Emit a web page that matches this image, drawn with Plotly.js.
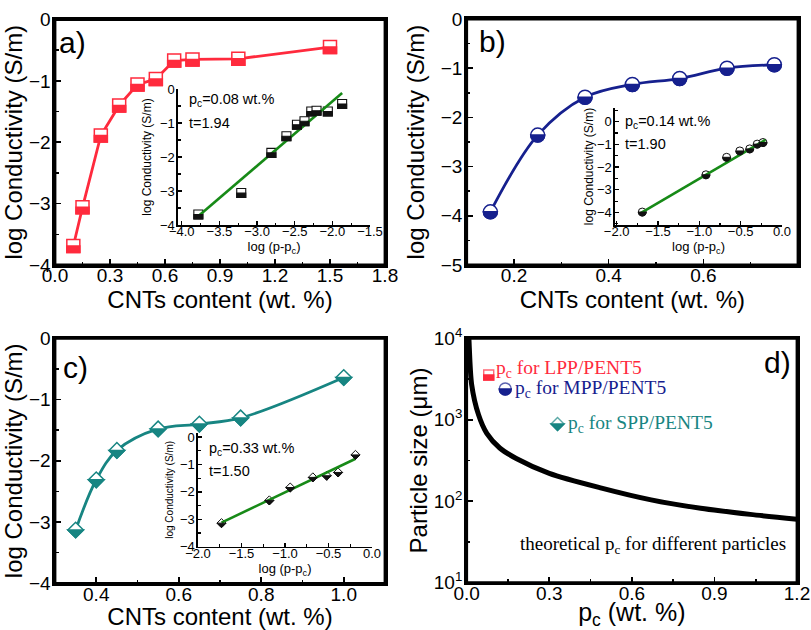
<!DOCTYPE html>
<html><head><meta charset="utf-8">
<script src="https://cdn.plot.ly/plotly-3.0.1.min.js"></script>
<style>html,body{margin:0;padding:0;background:#fff}#chart{width:811px;height:630px}</style>
</head><body><div id="chart"></div>
<script>
// ---------- data ----------
// panel a (LPP/PENT5)
const aX = [0.10, 0.15, 0.25, 0.35, 0.45, 0.55, 0.65, 0.75, 1.00, 1.50];
const aY = [-3.69, -3.06, -1.89, -1.40, -1.06, -0.97, -0.67, -0.65, -0.64, -0.45];
const aInsetX = [-3.78, -3.21, -2.81, -2.61, -2.47, -2.37, -2.28, -2.21, -2.06, -1.87];
const aInsetY = [-3.69, -3.06, -1.88, -1.39, -1.05, -0.95, -0.66, -0.64, -0.66, -0.44];
const aFitX = [-3.79, -1.87];
const aFitY = [-3.76, -0.12];
// panel b (MPP/PENT5)
const bX = [0.15, 0.25, 0.35, 0.45, 0.55, 0.65, 0.75];
const bY = [-3.92, -2.36, -1.59, -1.33, -1.21, -1.00, -0.93];
const bInsetX = [-1.69, -0.92, -0.67, -0.51, -0.39, -0.30, -0.23];
const bInsetY = [-3.98, -2.34, -1.57, -1.29, -1.20, -0.99, -0.92];
const bFitX = [-1.71, -0.20];
const bFitY = [-4.03, -0.80];
// panel c (SPP/PENT5)
const cX = [0.35, 0.40, 0.45, 0.55, 0.65, 0.75, 1.00];
const cY = [-3.13, -2.31, -1.83, -1.48, -1.40, -1.30, -0.64];
const cInsetX = [-1.73, -1.18, -0.94, -0.68, -0.52, -0.39, -0.19];
const cInsetY = [-3.14, -2.31, -1.84, -1.47, -1.41, -1.29, -0.65];
const cFitX = [-1.73, -0.195];
const cFitY = [-3.12, -0.80];
// panel d
const dCurveX = [0.004, 0.008, 0.018, 0.043, 0.073, 0.12, 0.18, 0.30, 0.49, 0.67, 0.85, 1.03, 1.20];
const dCurveY = [20000, 10000, 2700, 1150, 680, 450, 335, 220, 145, 104, 82, 69, 60];
const dPcX = [0.08, 0.14, 0.33];
const dPcY = [3540, 2390, 890];
const dPcLabels = ['p<sub>c</sub> for LPP/PENT5', 'p<sub>c</sub> for MPP/PENT5', 'p<sub>c</sub> for SPP/PENT5'];
const dTickVals = [10, 100, 1000, 10000];
const dTickText = ['10<sup>1</sup>', '10<sup>2</sup>', '10<sup>3</sup>', '10<sup>4</sup>'];
const insetTexts = [['p<sub>c</sub>=0.08 wt.%', 't=1.94'], ['p<sub>c</sub>=0.14 wt.%', 't=1.90'], ['p<sub>c</sub>=0.33 wt.%', 't=1.50']];

// ---------- style ----------
const W = 811, H = 630;
const px = (a, b) => [a / W, b / W];
const py = (top, bot) => [1 - bot / H, 1 - top / H];
const SANS = '"Liberation Sans", Arial, sans-serif';
const SERIF = '"Liberation Serif", "Times New Roman", serif';
const RED = '#FF2A3D', BLUE = '#16208E', TEAL = '#178582', GREEN = '#178A17', INK = '#111';

function mainAxis(domain, range, dtick, minor, anchor, extra) {
  return Object.assign({
    domain, range, dtick, anchor, showline: true, linecolor: 'black', linewidth: 2.6, mirror: true,
    ticks: 'inside', ticklen: 6, tickwidth: 1.6, tickcolor: 'black', showgrid: false, zeroline: false,
    tickfont: {family: SANS, size: 19, color: 'black'},
    minor: {ticks: 'inside', ticklen: 3.5, tickwidth: 1.6, tickcolor: 'black', dtick: minor, showgrid: false},
    fixedrange: true
  }, extra || {});
}
function insetAxis(domain, range, dtick, minor, anchor, extra) {
  return Object.assign({
    domain, range, dtick, anchor, showline: true, linecolor: 'black', linewidth: 1.6, mirror: false,
    ticks: 'inside', ticklen: 4, tickwidth: 1.3, tickcolor: 'black', showgrid: false, zeroline: false,
    tickfont: {family: SANS, size: 13, color: 'black'},
    minor: {ticks: 'inside', ticklen: 2.5, tickwidth: 1.2, tickcolor: 'black', dtick: minor, showgrid: false},
    fixedrange: true
  }, extra || {});
}

function halfPath(kind, s) {
  if (kind === 'square') { const h = s / 2; return `M${-h},0 L${h},0 L${h},${-h} L${-h},${-h} Z`; }
  if (kind === 'circle') { const r = s / 2, k = 0.5523 * r; return `M${-r},0 C${-r},${-k} ${-k},${-r} 0,${-r} C${k},${-r} ${r},${-k} ${r},0 Z`; }
  const w = 0.65 * s; return `M${-w},0 L${w},0 L0,${-w} Z`;
}
function halfShapes(xs, ys, xref, yref, kind, size, color, lw) {
  return xs.map((x, i) => ({
    type: 'path', xref, yref, xsizemode: 'pixel', ysizemode: 'pixel',
    xanchor: x, yanchor: ys[i],
    path: halfPath(kind, size), fillcolor: color, line: {color, width: lw}, layer: 'above'
  }));
}
function pts(xs, ys, xa, ya, sym, size, color, lw, lineColor, mode, shape) {
  return {x: xs, y: ys, xaxis: xa, yaxis: ya, type: 'scatter', mode: mode || 'markers',
    line: {color: lineColor || color, width: 2.8, shape: shape || 'linear', smoothing: 1},
    marker: {symbol: sym, size, color: 'white', line: {color, width: lw}}, hoverinfo: 'skip'};
}
function fit(xs, ys, xa, ya) {
  return {x: xs, y: ys, xaxis: xa, yaxis: ya, type: 'scatter', mode: 'lines', line: {color: GREEN, width: 2.6}, hoverinfo: 'skip'};
}

const data = [
  pts(aX, aY, 'x', 'y', 'square', 13, RED, 1.5, RED, 'lines+markers', 'linear'),
  pts(bX, bY, 'x2', 'y2', 'circle', 14, BLUE, 1.5, BLUE, 'lines+markers', 'spline'),
  pts(cX, cY, 'x3', 'y3', 'diamond', 12, TEAL, 1.5, TEAL, 'lines+markers', 'spline'),
  {x: dCurveX, y: dCurveY, xaxis: 'x4', yaxis: 'y4', type: 'scatter', mode: 'lines', line: {color: 'black', width: 5, shape: 'spline', smoothing: 0.8}, hoverinfo: 'skip'},
  {x: dPcX, y: dPcY, xaxis: 'x4', yaxis: 'y4', type: 'scatter', mode: 'markers', hoverinfo: 'skip',
   marker: {symbol: ['square', 'circle', 'diamond'], size: [10, 12, 10], color: 'white', line: {color: [RED, BLUE, TEAL], width: 1.4}}},
  pts(aInsetX, aInsetY, 'x5', 'y5', 'square', 9, INK, 1.1),
  fit(aFitX, aFitY, 'x5', 'y5'),
  pts(bInsetX, bInsetY, 'x6', 'y6', 'circle', 8, INK, 1.0),
  fit(bFitX, bFitY, 'x6', 'y6'),
  pts(cInsetX, cInsetY, 'x7', 'y7', 'diamond', 7, INK, 1.0),
  fit(cFitX, cFitY, 'x7', 'y7')
];

const tTitle = (text, size, standoff, family) => ({text, font: {family: family || SANS, size: size, color: 'black'}, standoff});
const YT = 'log Conductivity (S/m)', XT = 'CNTs content (wt. %)', IXT = 'log (p-p<sub>c</sub>)';

const layout = {
  width: W, height: H, margin: {l: 0, r: 0, t: 0, b: 0}, showlegend: false,
  paper_bgcolor: 'white', plot_bgcolor: 'rgba(0,0,0,0)',
  font: {family: SANS, color: 'black'},
  xaxis: mainAxis(px(55, 385), [0, 1.8], 0.3, 0.15, 'y', {tickformat: '.1f', ticklabelstandoff: -8, title: tTitle(XT, 24, 2)}),
  yaxis: mainAxis(py(19.5, 265), [-4, 0], 1, 0.5, 'x', {ticklabelstandoff: -2, title: tTitle(YT, 24, 0)}),
  xaxis2: mainAxis(px(466.7, 798), [0.1, 0.8], 0.2, 0.1, 'y2', {tickformat: '.1f', tick0: 0, ticklabelstandoff: -8, title: tTitle(XT, 24, 2)}),
  yaxis2: mainAxis(py(19, 265), [-5, 0], 1, 0.5, 'x2', {ticklabelstandoff: -2, title: tTitle(YT, 24, 10)}),
  xaxis3: mainAxis(px(55, 385), [0.3, 1.1], 0.2, 0.1, 'y3', {tickformat: '.1f', tick0: 0, ticklabelstandoff: -8, title: tTitle(XT, 24, 2)}),
  yaxis3: mainAxis(py(338.3, 583.3), [-4, 0], 1, 0.5, 'x3', {ticklabelstandoff: -2, title: tTitle(YT, 24, 0)}),
  xaxis4: mainAxis(px(466.7, 797), [0, 1.2], 0.3, 0.15, 'y4', {tickformat: '.1f', ticklabelstandoff: -8, title: tTitle('p<sub>c</sub> (wt. %)', 25, 8)}),
  yaxis4: mainAxis(py(338.3, 582.7), [1, 4], 1, 0.5, 'x4', {type: 'log', tickvals: dTickVals, ticktext: dTickText, ticklabelstandoff: -2, title: tTitle('Particle size (\u03bcm)', 24, 0)}),
  xaxis5: insetAxis(px(178, 370), [-4.05, -1.5], 0.5, 0.25, 'y5', {tickformat: '.1f', ticklabelstandoff: -6, title: tTitle(IXT, 13, 0)}),
  yaxis5: insetAxis(py(89, 225), [-4, 0], 1, 0.5, 'x5', {ticklabelstandoff: -1, title: tTitle(YT, 12, 6)}),
  xaxis6: insetAxis(px(615, 782), [-2.02, 0], 0.5, 0.25, 'y6', {tickformat: '.1f', tick0: 0, ticklabelstandoff: -6, title: tTitle(IXT, 13, 0)}),
  yaxis6: insetAxis(py(108, 225), [-4.55, 0.6], 1, 0.5, 'x6', {ticklabelstandoff: -1, title: tTitle(YT, 12, 1)}),
  xaxis7: insetAxis(px(198, 372), [-2, 0], 0.5, 0.25, 'y7', {tickformat: '.1f', tick0: 0, ticklabelstandoff: -6, title: tTitle(IXT, 13, 0)}),
  yaxis7: insetAxis(py(433, 546.7), [-4, 0.15], 1, 0.5, 'x7', {ticklabelstandoff: -1, title: tTitle(YT, 10, 4)}),
  annotations: []
};

// frames around the four main panels (paper coords taken from the axis domains)
const framePairs = [['xaxis', 'yaxis'], ['xaxis2', 'yaxis2'], ['xaxis3', 'yaxis3'], ['xaxis4', 'yaxis4']];
const frames = framePairs.map(([xa, ya]) => ({
  type: 'rect', xref: 'paper', yref: 'paper',
  x0: layout[xa].domain[0], x1: layout[xa].domain[1], y0: layout[ya].domain[0], y1: layout[ya].domain[1],
  line: {color: 'black', width: 2.8}, layer: 'above'
}));

layout.shapes = [].concat(
  frames,
  halfShapes(aX, aY, 'x', 'y', 'square', 13, RED, 1.5),
  halfShapes(bX, bY, 'x2', 'y2', 'circle', 14, BLUE, 1.5),
  halfShapes(cX, cY, 'x3', 'y3', 'diamond', 12, TEAL, 1.5),
  halfShapes(dPcX.slice(0, 1), dPcY.slice(0, 1), 'x4', 'y4', 'square', 10, RED, 1.4),
  halfShapes(dPcX.slice(1, 2), dPcY.slice(1, 2), 'x4', 'y4', 'circle', 12, BLUE, 1.4),
  halfShapes(dPcX.slice(2, 3), dPcY.slice(2, 3), 'x4', 'y4', 'diamond', 10, TEAL, 1.4),
  halfShapes(aInsetX, aInsetY, 'x5', 'y5', 'square', 9, INK, 1.1),
  halfShapes(bInsetX, bInsetY, 'x6', 'y6', 'circle', 8, INK, 1.0),
  halfShapes(cInsetX, cInsetY, 'x7', 'y7', 'diamond', 7, INK, 1.0)
);

// panel labels
[['a)', 72, 43], ['b)', 492, 42], ['c)', 75, 367], ['d)', 777, 362]].forEach(([t, x, y]) => {
  layout.annotations.push({text: t, xref: 'paper', yref: 'paper', x: x / W, y: 1 - y / H, xanchor: 'center', yanchor: 'middle',
    showarrow: false, font: {family: SANS, size: 30, color: 'black'}});
});
// inset texts
[[187, 100, 123], [623, 122, 144], [207, 449, 471]].forEach(([x, y1, y2], i) => {
  layout.annotations.push({text: insetTexts[i][0], xref: 'paper', yref: 'paper', x: x / W, y: 1 - y1 / H, xanchor: 'left', yanchor: 'middle',
    showarrow: false, font: {family: SANS, size: 14.5, color: 'black'}});
  layout.annotations.push({text: insetTexts[i][1], xref: 'paper', yref: 'paper', x: x / W, y: 1 - y2 / H, xanchor: 'left', yanchor: 'middle',
    showarrow: false, font: {family: SANS, size: 14.5, color: 'black'}});
});
// panel d labels
const dCols = [RED, BLUE, TEAL];
dPcX.forEach((x, i) => {
  layout.annotations.push({text: dPcLabels[i], xref: 'x4', yref: 'y4', x: x, y: Math.log10(dPcY[i]), xanchor: 'left', yanchor: 'middle',
    xshift: i === 0 ? 5 : 8, yshift: i === 0 ? 6 : 0, showarrow: false, font: {family: SERIF, size: 19.5, color: dCols[i]}});
});
layout.annotations.push({text: 'theoretical p<sub>c</sub> for different particles', xref: 'paper', yref: 'paper', x: 518 / W, y: 1 - 545 / H,
  xanchor: 'left', yanchor: 'middle', showarrow: false, font: {family: SERIF, size: 19, color: 'black'}});

Plotly.newPlot('chart', data, layout, {staticPlot: true, displayModeBar: false});
</script></body></html>
